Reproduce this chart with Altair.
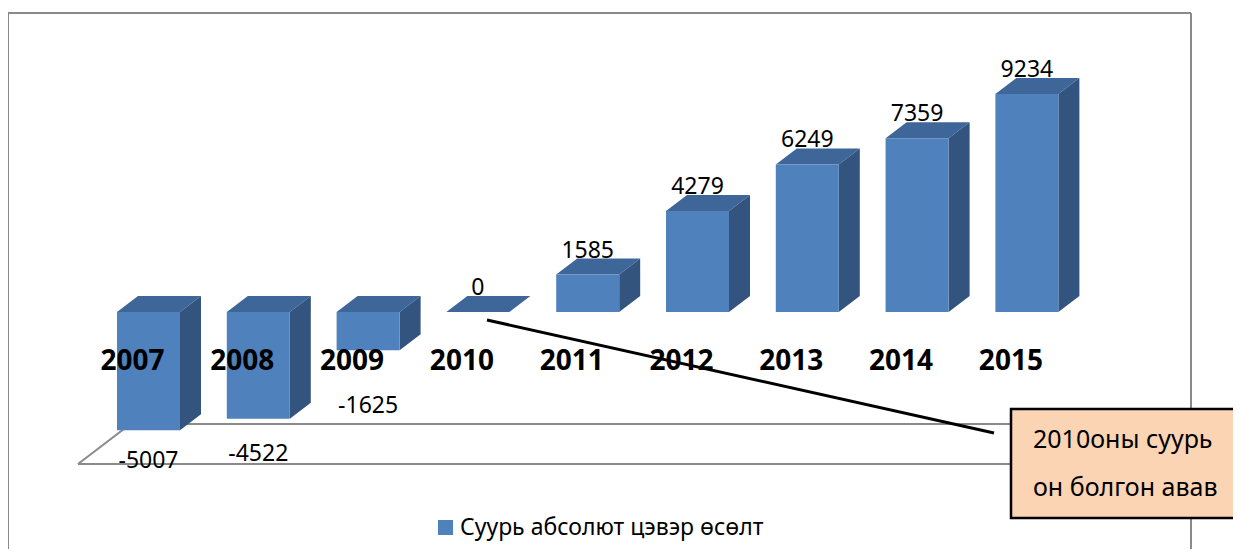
import altair as alt
import pandas as pd

# ---------------- data ----------------
years = ["2007", "2008", "2009", "2010", "2011", "2012", "2013", "2014", "2015"]
values = [-5007, -4522, -1625, 0, 1585, 4279, 6249, 7359, 9234]
series_name = "Суурь абсолют цэвэр өсөлт"
callout_lines = ["2010оны суурь", "он болгон авав"]

# ---------------- geometry (scale setup) ----------------
W, H = 1223, 536
PX_PER_IDX = 109.8          # pixels between bar centres
X0_PX = 138.5               # pixel of first bar centre
ZERO_PX = 299.0             # pixel of value 0
PX_PER_UNIT = 0.02361       # pixels per value unit
x_domain = [-X0_PX / PX_PER_IDX, (W - X0_PX) / PX_PER_IDX]
y_domain = [-(H - ZERO_PX) / PX_PER_UNIT, ZERO_PX / PX_PER_UNIT]
HALF = 31.5 / PX_PER_IDX    # half front width
DXI = 21 / PX_PER_IDX       # depth offset (x)
DYV = 16 / PX_PER_UNIT      # depth offset (y)
NEG_LABEL_SCALE = 0.689     # negative labels sit partway down the 3D floor

FRONT = "#4f81bd"
TOP = "#3e6698"
SIDE = "#33547e"
FONT = "Noto Sans"
GRAY = "#8a8a8a"

xs = alt.Scale(domain=x_domain, nice=False, zero=False)
ys = alt.Scale(domain=y_domain, nice=False, zero=False)

rows, tops, sides = [], [], []
for i, (yr, v) in enumerate(zip(years, values)):
    x0, x1 = i - HALF, i + HALF
    t, b = max(v, 0), min(v, 0)
    rows.append(dict(idx=i, year=yr, value=v, x0=x0, x1=x1, top=t, bot=b,
                     label=str(v), series=series_name,
                     lab_y=(t + DYV) if v >= 0 else b * NEG_LABEL_SCALE,
                     yr_x=i - 16 / PX_PER_IDX,
                     yr_y=(ZERO_PX - 349) / PX_PER_UNIT))
    tops += [dict(idx=i, x=x0, lo=t, hi=t),
             dict(idx=i, x=x0 + DXI, lo=t, hi=t + DYV),
             dict(idx=i, x=x1, lo=t, hi=t + DYV),
             dict(idx=i, x=x1 + DXI, lo=t + DYV, hi=t + DYV)]
    sides += [dict(idx=i, x=x1, lo=b, hi=t),
              dict(idx=i, x=x1 + DXI, lo=b + DYV, hi=t + DYV)]

bars = pd.DataFrame(rows)
top_df = pd.DataFrame(tops)
side_df = pd.DataFrame(sides)

# floor plane
ff = (ZERO_PX - 451) / PX_PER_UNIT
fb = (ZERO_PX - 411) / PX_PER_UNIT
fl = (78 - 10 - X0_PX) / PX_PER_IDX
fr = (1045 - 10 - X0_PX) / PX_PER_IDX
fd = 52.5 / PX_PER_IDX
floor_df = pd.DataFrame([
    dict(o=0, x=fl, y=ff), dict(o=1, x=fr, y=ff), dict(o=2, x=fr + fd, y=fb),
    dict(o=3, x=fl + fd, y=fb), dict(o=4, x=fl, y=ff)])

one = pd.DataFrame({"a": [0]})

floor = alt.Chart(floor_df).mark_line(color=GRAY, strokeWidth=2).encode(
    x=alt.X("x:Q", scale=xs, axis=None), y=alt.Y("y:Q", scale=ys, axis=None),
    order="o:Q")

top_faces = alt.Chart(top_df).mark_area(color=TOP, orient="vertical").encode(
    x=alt.X("x:Q", scale=xs, axis=None), y=alt.Y("lo:Q", scale=ys, axis=None),
    y2="hi:Q", detail="idx:N")

side_faces = alt.Chart(side_df).mark_area(color=SIDE, orient="vertical").encode(
    x=alt.X("x:Q", scale=xs, axis=None), y=alt.Y("lo:Q", scale=ys, axis=None),
    y2="hi:Q", detail="idx:N")

front = alt.Chart(bars).mark_rect().encode(
    x=alt.X("x0:Q", scale=xs, axis=None), x2="x1:Q",
    y=alt.Y("bot:Q", scale=ys, axis=None), y2="top:Q",
    color=alt.Color("series:N", scale=alt.Scale(range=[FRONT]),
                    legend=alt.Legend(orient="none", legendX=424, legendY=503,
                                      title=None, symbolType="square",
                                      symbolSize=225, symbolStrokeWidth=0,
                                      symbolOpacity=1, labelFont=FONT,
                                      labelFontSize=23, labelColor="#000000",
                                      labelLimit=600, padding=0,
                                      labelOffset=3)))

pos_labels = alt.Chart(bars).transform_filter("datum.value >= 0").mark_text(
    font=FONT, fontSize=23, baseline="bottom", dy=4, color="#000000").encode(
    x=alt.X("idx:Q", scale=xs, axis=None), y=alt.Y("lab_y:Q", scale=ys, axis=None),
    text="label:N")

neg_labels = alt.Chart(bars).transform_filter("datum.value < 0").mark_text(
    font=FONT, fontSize=23, baseline="middle", dy=68, color="#000000").encode(
    x=alt.X("idx:Q", scale=xs, axis=None), y=alt.Y("lab_y:Q", scale=ys, axis=None),
    text="label:N")

year_labels = alt.Chart(bars).mark_text(
    font=FONT, fontSize=28, fontWeight="bold", baseline="middle",
    color="#000000").encode(
    x=alt.X("yr_x:Q", scale=xs, axis=None), y=alt.Y("yr_y:Q", scale=ys, axis=None),
    text="year:N")

# callout connector from the 2010 bar to the note box
conn_df = pd.DataFrame([dict(
    x=3 + 9.1 / PX_PER_IDX, y=(ZERO_PX - 307) / PX_PER_UNIT,
    x2=(984 - X0_PX) / PX_PER_IDX, y2=(ZERO_PX - 420) / PX_PER_UNIT)])
connector = alt.Chart(conn_df).mark_rule(color="#000000", strokeWidth=3).encode(
    x=alt.X("x:Q", scale=xs, axis=None), y=alt.Y("y:Q", scale=ys, axis=None),
    x2="x2:Q", y2="y2:Q")

box = alt.Chart(one).mark_rect(
    fill="#fbd4b4", stroke="#000000", strokeWidth=2.5).encode(
    x=alt.value(1001), x2=alt.value(1240), y=alt.value(396), y2=alt.value(505))

note1 = alt.Chart(one).mark_text(
    font=FONT, fontSize=25, align="left", baseline="middle", color="#000000",
    text=callout_lines[0]).encode(x=alt.value(1023), y=alt.value(427))
note2 = alt.Chart(one).mark_text(
    font=FONT, fontSize=25, align="left", baseline="middle", color="#000000",
    text=callout_lines[1]).encode(x=alt.value(1023), y=alt.value(475))

frame_left = alt.Chart(one).mark_rule(color=GRAY, strokeWidth=2).encode(
    x=alt.value(-2), y=alt.value(0), y2=alt.value(H))
frame_top = alt.Chart(one).mark_rule(color=GRAY, strokeWidth=2).encode(
    x=alt.value(-2), x2=alt.value(1181), y=alt.value(0))
frame_right = alt.Chart(one).mark_rule(color=GRAY, strokeWidth=2).encode(
    x=alt.value(1181), y=alt.value(0), y2=alt.value(H))

chart = alt.layer(
    frame_left, frame_top, frame_right, floor, top_faces, side_faces, front,
    pos_labels, neg_labels, year_labels, connector, box, note1, note2
).properties(
    width=W, height=H,
    autosize=alt.AutoSizeParams(type="none"),
    padding={"left": 2, "top": 5, "right": 0, "bottom": 0},
    background="#ffffff",
).configure_view(stroke=None)

chart.save("out.html", embed_options={"renderer": "svg", "actions": False})
